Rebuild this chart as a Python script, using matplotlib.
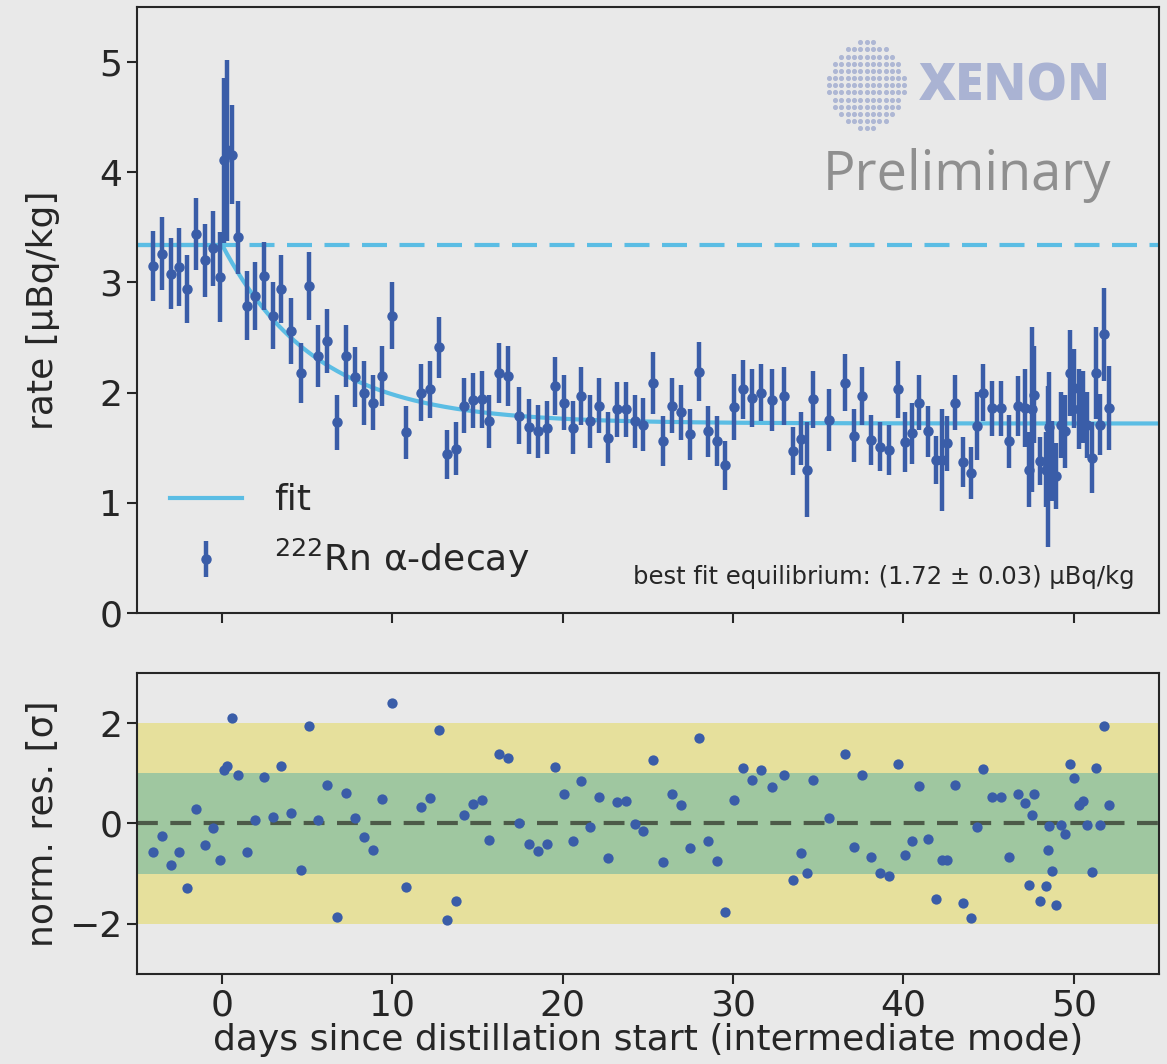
import numpy as np
import matplotlib
matplotlib.use("Agg")
import matplotlib.pyplot as plt

plt.rcParams.update({
    "font.family": "DejaVu Sans",
    "font.size": 26,
    "text.color": "#262626",
    "axes.labelcolor": "#262626",
    "xtick.color": "#262626",
    "ytick.color": "#262626",
    "axes.edgecolor": "#262626",
    "axes.linewidth": 1.5,
    "xtick.major.width": 1.5,
    "ytick.major.width": 1.5,
    "xtick.major.size": 7,
    "ytick.major.size": 7,
})

# --- data ---
days = [-4.07, -3.56, -3.03, -2.52, -2.04, -1.51, -0.98, -0.51, -0.12, 0.12,
        0.30, 0.55, 0.92, 1.43, 1.94, 2.45, 2.97, 3.48, 4.05, 4.60,
        5.11, 5.62, 6.17, 6.73, 7.26, 7.77, 8.32, 8.87, 9.41, 9.98,
        10.82, 11.70, 12.21, 12.72, 13.21, 13.72, 14.19, 14.70, 15.23, 15.68,
        16.28, 16.79, 17.40, 18.01, 18.54, 19.05, 19.55, 20.06, 20.57, 21.08,
        21.59, 22.14, 22.68, 23.18, 23.70, 24.21, 24.72, 25.29, 25.88, 26.42,
        26.95, 27.46, 27.97, 28.50, 29.03, 29.54, 30.05, 30.55, 31.10, 31.65,
        32.31, 32.98, 33.51, 34.00, 34.33, 34.68, 35.64, 36.58, 37.07, 37.56,
        38.07, 38.60, 39.13, 39.65, 40.11, 40.48, 40.91, 41.42, 41.93, 42.26,
        42.55, 43.00, 43.49, 43.94, 44.29, 44.69, 45.20, 45.70, 46.21, 46.74,
        47.11, 47.37, 47.52, 47.66, 48.01, 48.34, 48.46, 48.56, 48.74, 48.97,
        49.25, 49.50, 49.77, 50.03, 50.28, 50.54, 50.79, 51.05, 51.28, 51.54,
        51.79, 52.05]

rate = [3.15, 3.26, 3.08, 3.14, 2.94, 3.44, 3.20, 3.31, 3.05, 4.11,
        4.20, 4.16, 3.41, 2.79, 2.88, 3.06, 2.70, 2.94, 2.56, 2.18,
        2.97, 2.33, 2.47, 1.73, 2.33, 2.14, 2.00, 1.91, 2.15, 2.70,
        1.64, 2.00, 2.03, 2.41, 1.44, 1.49, 1.88, 1.93, 1.94, 1.74,
        2.18, 2.15, 1.79, 1.69, 1.65, 1.68, 2.06, 1.91, 1.68, 1.97,
        1.74, 1.88, 1.59, 1.85, 1.85, 1.74, 1.71, 2.09, 1.56, 1.88,
        1.82, 1.62, 2.19, 1.65, 1.56, 1.34, 1.87, 2.03, 1.95, 2.00,
        1.93, 1.97, 1.47, 1.58, 1.30, 1.94, 1.75, 2.09, 1.61, 1.97,
        1.57, 1.51, 1.48, 2.03, 1.55, 1.63, 1.91, 1.65, 1.39, 1.39,
        1.54, 1.91, 1.37, 1.27, 1.70, 2.00, 1.86, 1.86, 1.56, 1.88,
        1.86, 1.30, 1.85, 1.98, 1.38, 1.30, 1.33, 1.69, 1.38, 1.24,
        1.71, 1.65, 2.18, 2.04, 1.85, 1.87, 1.71, 1.41, 2.18, 1.71,
        2.53, 1.86]

rate_err = [0.32, 0.33, 0.32, 0.35, 0.31, 0.33, 0.33, 0.34, 0.41, 0.75,
            0.82, 0.45, 0.33, 0.31, 0.31, 0.31, 0.30, 0.31, 0.30, 0.27,
            0.31, 0.28, 0.29, 0.25, 0.28, 0.27, 0.29, 0.25, 0.27, 0.30,
            0.24, 0.26, 0.26, 0.28, 0.22, 0.24, 0.25, 0.25, 0.26, 0.24,
            0.27, 0.27, 0.26, 0.25, 0.24, 0.24, 0.26, 0.25, 0.24, 0.26,
            0.24, 0.25, 0.23, 0.25, 0.25, 0.24, 0.24, 0.28, 0.23, 0.25,
            0.25, 0.23, 0.27, 0.23, 0.23, 0.22, 0.30, 0.27, 0.26, 0.26,
            0.28, 0.26, 0.22, 0.24, 0.43, 0.26, 0.28, 0.26, 0.24, 0.26,
            0.23, 0.22, 0.23, 0.26, 0.27, 0.28, 0.25, 0.23, 0.22, 0.46,
            0.25, 0.25, 0.23, 0.24, 0.31, 0.26, 0.25, 0.25, 0.24, 0.27,
            0.35, 0.34, 0.75, 0.44, 0.22, 0.34, 0.73, 0.50, 0.36, 0.30,
            0.30, 0.33, 0.39, 0.36, 0.36, 0.33, 0.30, 0.32, 0.42, 0.28,
            0.42, 0.38]

norm_res = [-0.57, -0.24, -0.83, -0.57, -1.29, 0.29, -0.42, -0.10, -0.72, 1.06,
            1.14, 2.11, 0.96, -0.57, 0.06, 0.93, 0.12, 1.15, 0.21, -0.93,
            1.94, 0.06, 0.76, -1.86, 0.61, 0.11, -0.27, -0.53, 0.49, 2.40,
            -1.27, 0.33, 0.51, 1.87, -1.92, -1.54, 0.16, 0.39, 0.47, -0.32,
            1.38, 1.31, 0.00, -0.40, -0.55, -0.40, 1.12, 0.59, -0.35, 0.84,
            -0.07, 0.53, -0.68, 0.43, 0.45, -0.02, -0.14, 1.26, -0.77, 0.59,
            0.37, -0.48, 1.70, -0.35, -0.74, -1.76, 0.47, 1.11, 0.86, 1.07,
            0.73, 0.96, -1.13, -0.59, -0.99, 0.86, 0.11, 1.39, -0.47, 0.96,
            -0.66, -0.98, -1.04, 1.18, -0.62, -0.34, 0.75, -0.31, -1.50, -0.73,
            -0.72, 0.76, -1.58, -1.89, -0.08, 1.08, 0.53, 0.52, -0.67, 0.58,
            0.40, -1.22, 0.17, 0.59, -1.55, -1.24, -0.53, -0.06, -0.94, -1.62,
            -0.04, -0.21, 1.18, 0.90, 0.36, 0.45, -0.04, -0.97, 1.10, -0.04,
            1.94, 0.37]

# fit parameters (radon decay towards equilibrium)
initial_rate = 3.34
equilibrium = 1.72
half_life = 3.82  # days

# colours
bg = "#e9e9e9"
dot_col = "#3a5da8"
fit_col = "#5bbde4"

fig = plt.figure(figsize=(11.67, 10.64), dpi=100, facecolor=bg)
ax1 = fig.add_axes([0.1174, 0.4239, 0.8757, 0.5695], facecolor=bg)
ax2 = fig.add_axes([0.1174, 0.0846, 0.8757, 0.2829], facecolor=bg)

# ---- top panel ----
t = np.linspace(-5, 55, 1201)
tau = half_life / np.log(2)
fit = np.where(t < 0, initial_rate,
               equilibrium + (initial_rate - equilibrium) * np.exp(-np.clip(t, 0, None) / tau))
ax1.axhline(initial_rate, color=fit_col, lw=3, ls=(0, (6, 3)), zorder=1)
ax1.plot(t, fit, color=fit_col, lw=3, label="fit", zorder=2)
ax1.errorbar(days, rate, yerr=rate_err, fmt="o", color=dot_col, ms=6.5,
             elinewidth=3.2, capsize=0, label=r"$^{222}$Rn α-decay", zorder=3)

ax1.set_xlim(-5, 55)
ax1.set_ylim(0, 5.5)
ax1.set_yticks([0, 1, 2, 3, 4, 5])
ax1.set_xticks([0, 10, 20, 30, 40, 50])
ax1.tick_params(axis="x", labelbottom=False)
ax1.set_ylabel("rate [µBq/kg]")
ax1.yaxis.set_label_coords(-0.075, 0.5)
ax1.legend(loc="lower left", frameon=False, handlelength=2.0, handletextpad=0.9,
           labelspacing=0.55, borderaxespad=0.5, fontsize=26)
ax1.text(0.9765, 0.04, "best fit equilibrium: (1.72 ± 0.03) µBq/kg",
         transform=ax1.transAxes, ha="right", va="bottom", fontsize=17.5)

# XENON logo + Preliminary
gx, gy = np.meshgrid(np.linspace(-1, 1, 13), np.linspace(-1, 1, 13))
mask = gx**2 + gy**2 <= 1.05
lx = 0.714 + 0.037 * gx[mask]
ly = 0.871 + 0.071 * gy[mask]
ax1.scatter(lx, ly, s=7, color="#aeb7d4", transform=ax1.transAxes, zorder=1)
ax1.text(0.953, 0.868, "XENON", transform=ax1.transAxes, ha="right", va="center",
         fontsize=37, fontweight="heavy", color="#aab3d3", family="Open Sans")
ax1.text(0.953, 0.722, "Preliminary", transform=ax1.transAxes, ha="right", va="center",
         fontsize=39, color="#8f8f8f", family="Open Sans")

# ---- residual panel ----
ax2.axhspan(-2, 2, color="#e6e09c", zorder=0, lw=0)
ax2.axhspan(-1, 1, color="#9fc7a0", zorder=0.5, lw=0)
ax2.axhline(0, color="#4c5a48", lw=3, ls=(0, (5, 3)), zorder=1)
ax2.scatter(days, norm_res, s=55, color=dot_col, zorder=3, linewidths=0)

ax2.set_xlim(-5, 55)
ax2.set_ylim(-3, 3)
ax2.set_yticks([-2, 0, 2])
ax2.set_xticks([0, 10, 20, 30, 40, 50])
ax2.set_ylabel("norm. res. [σ]")
ax2.yaxis.set_label_coords(-0.075, 0.5)
ax2.set_xlabel("days since distillation start (intermediate mode)", labelpad=0)

fig.savefig("out.png", dpi=100, facecolor=bg)
